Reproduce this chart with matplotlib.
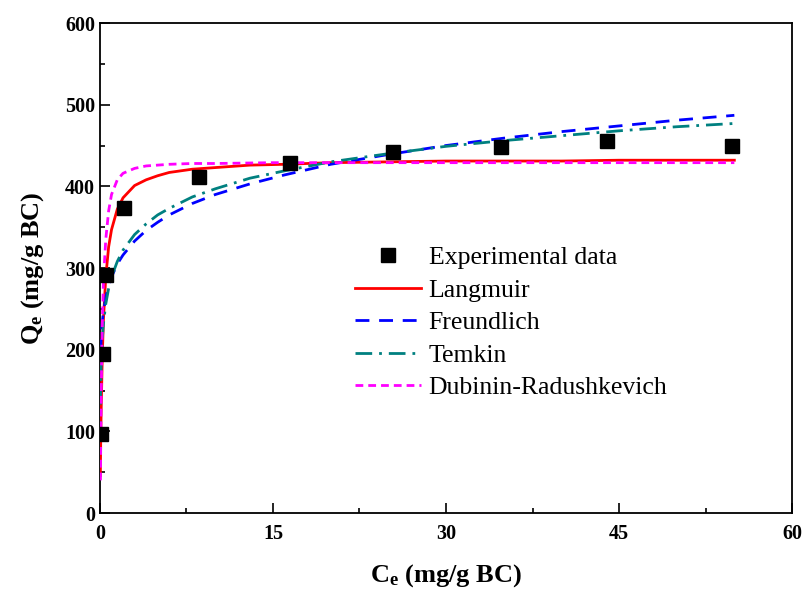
import numpy as np
import matplotlib.pyplot as plt

plt.rcParams['font.family'] = ['Liberation Serif', 'DejaVu Serif']
plt.rcParams['mathtext.fontset'] = 'custom'
plt.rcParams['mathtext.rm'] = 'Liberation Serif'
plt.rcParams['mathtext.bf'] = 'Liberation Serif:bold'

# experimental points
ce_exp = [0.1, 0.25, 0.5, 2.1, 8.6, 16.5, 25.4, 34.8, 44.0, 54.8]
qe_exp = [97, 195, 291, 374, 412, 429, 442, 448, 456, 449]

# fitted curves
c_lang = [0.03, 0.06, 0.1, 0.2, 0.3, 0.5, 0.75, 1, 1.5, 2, 3, 4, 5, 6, 8, 10,
          13, 16, 20, 25, 30, 35, 40, 45, 50, 55]
q_lang = [46, 84, 124, 193, 237, 289, 326, 347, 372, 386, 401, 408, 413, 417,
          421, 423, 426, 427, 429, 430, 431, 431, 431, 432, 432, 432]

c_freu = [0.05, 0.1, 0.2, 0.3, 0.5, 0.75, 1, 1.5, 2, 3, 4, 5, 6, 8, 10,
          13, 16, 20, 25, 30, 35, 40, 45, 50, 55]
q_freu = [196, 214, 234, 247, 264, 278, 289, 305, 316, 333, 346, 356, 365, 379,
          390, 403, 414, 427, 439, 450, 459, 467, 474, 481, 487]

c_temk = [0.015, 0.03, 0.05, 0.1, 0.2, 0.3, 0.5, 0.75, 1, 1.5, 2, 3, 4, 5, 6,
          8, 10, 13, 16, 20, 25, 30, 35, 40, 45, 50, 55]
q_temk = [92, 124, 148, 181, 213, 232, 256, 275, 289, 308, 322, 341, 354, 365,
          373, 387, 397, 410, 419, 430, 440, 449, 456, 462, 468, 473, 477]

c_dr = [0.04, 0.06, 0.1, 0.15, 0.2, 0.3, 0.5, 0.75, 1, 1.5, 2, 3, 4, 5, 6, 8,
        10, 15, 20, 30, 40, 55]
q_dr = [40, 80, 140, 190, 232, 285, 335, 370, 390, 408, 416, 422, 425, 426,
        427, 428, 428, 429, 429, 429, 429, 429]

fig = plt.figure(figsize=(8.09, 5.95), dpi=100)
ax = fig.add_axes([0.1236, 0.1378, 0.8554, 0.8235])

ax.plot(c_lang, q_lang, color='red', lw=2.0, label='Langmuir', zorder=3)
ax.plot(c_freu, q_freu, color='blue', lw=2.0, dashes=(5, 3.5), label='Freundlich', zorder=3)
ax.plot(c_temk, q_temk, color='#008080', lw=2.0, dashes=(6, 2.5, 1, 2.5),
        label='Temkin', zorder=3)
ax.plot(c_dr, q_dr, color='magenta', lw=2.0, dashes=(2.8, 1.8),
        label='Dubinin-Radushkevich', zorder=3)
ax.plot(ce_exp, qe_exp, 's', color='black', ms=10, label='Experimental data', zorder=4)

ax.set_xlim(0, 60)
ax.set_ylim(0, 600)
ax.set_xticks([0, 15, 30, 45, 60])
ax.set_xticks([7.5, 22.5, 37.5, 52.5], minor=True)
ax.set_yticks(np.arange(0, 601, 100))
ax.set_yticks(np.arange(50, 600, 100), minor=True)
ax.tick_params(which='major', direction='in', length=7, width=1.2, labelsize=14.5,
               top=False, right=False)
ax.tick_params(axis='x', which='major', pad=8)
ax.tick_params(which='minor', direction='in', length=3.5, width=1.2,
               top=False, right=False)
for lab in ax.get_xticklabels() + ax.get_yticklabels():
    lab.set_fontweight('bold')
for sp in ax.spines.values():
    sp.set_linewidth(1.3)

ax.set_xlabel(r'$\mathbf{C_e}$ (mg/g BC)', fontsize=19, fontweight='bold', labelpad=13)
ax.set_ylabel(r'$\mathbf{Q_e}$ (mg/g BC)', fontsize=19, fontweight='bold', labelpad=14)

h, l = ax.get_legend_handles_labels()
order = [4, 0, 1, 2, 3]
ax.legend([h[i] for i in order], [l[i] for i in order], loc='upper left',
          bbox_to_anchor=(0.354, 0.565), frameon=False, fontsize=18.5,
          handlelength=2.55, labelspacing=0.37, handletextpad=0.31, borderaxespad=0)

fig.savefig('out.png', dpi=100)
